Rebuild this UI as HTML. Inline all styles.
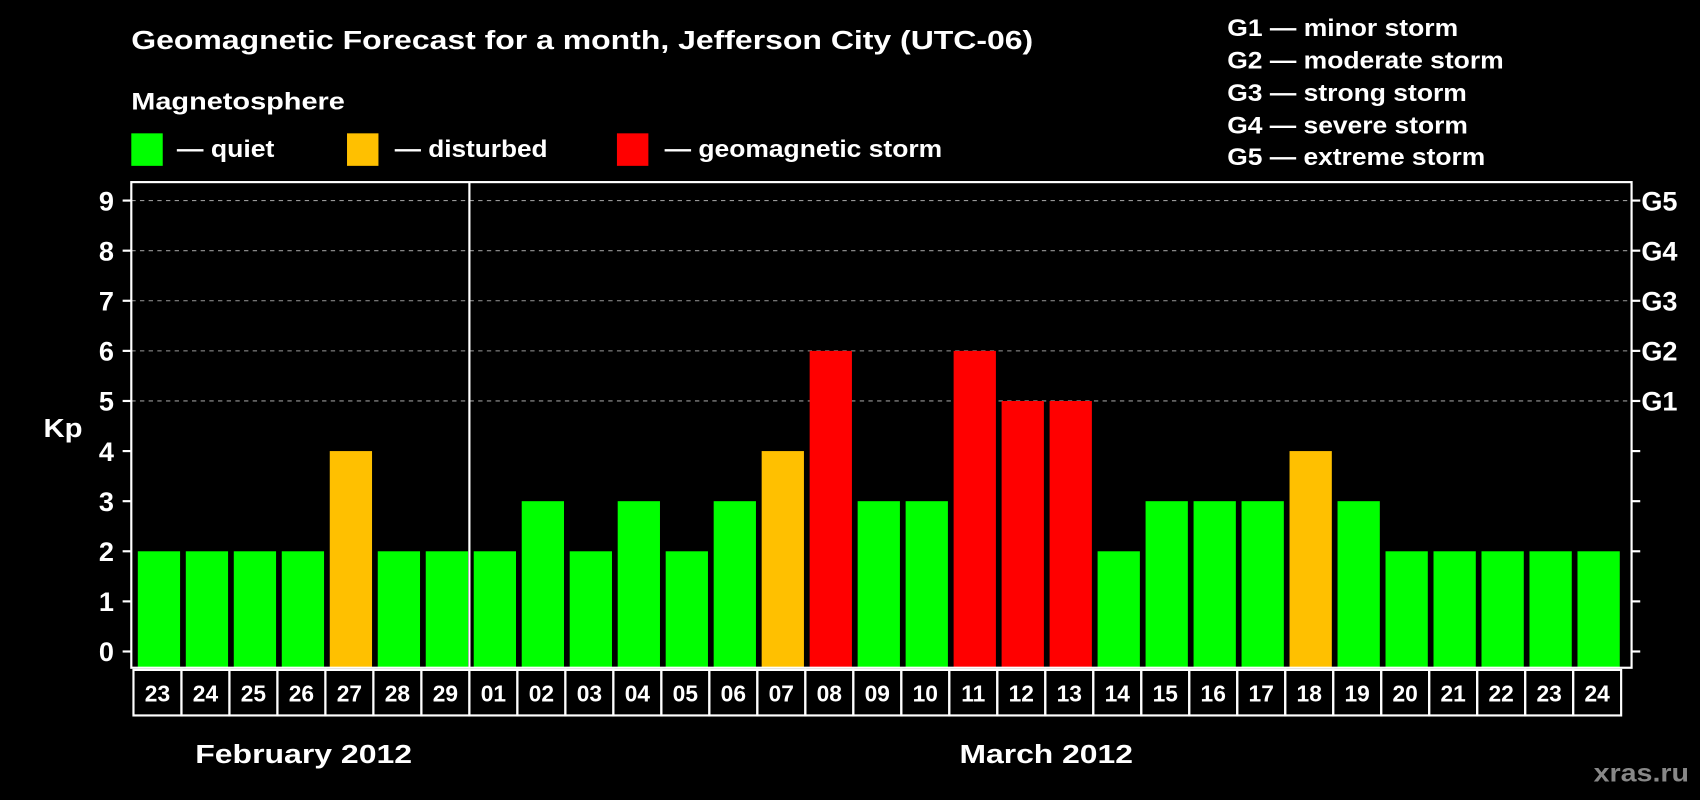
<!DOCTYPE html>
<html><head><meta charset="utf-8"><style>
html,body{margin:0;padding:0;background:#000;}
svg{display:block;font-family:"Liberation Sans",Arial,sans-serif;font-weight:bold;}
</style></head><body>
<svg id="chart" width="1700" height="800" viewBox="0 0 1568 738" xmlns="http://www.w3.org/2000/svg">
<rect width="1568" height="738" fill="#000"/>
<text x="121" y="45" fill="#fff" font-size="24" textLength="832" lengthAdjust="spacingAndGlyphs">Geomagnetic Forecast for a month, Jefferson City (UTC-06)</text>
<text x="121" y="101" fill="#fff" font-size="22" textLength="197" lengthAdjust="spacingAndGlyphs">Magnetosphere</text>
<g>
<rect x="121" y="123" width="29" height="30" fill="#00ff00"/>
<text x="163" y="145" fill="#fff" font-size="22" textLength="90" lengthAdjust="spacingAndGlyphs">— quiet</text>
<rect x="320" y="123" width="29" height="30" fill="#ffc000"/>
<text x="364" y="145" fill="#fff" font-size="22" textLength="141" lengthAdjust="spacingAndGlyphs">— disturbed</text>
<rect x="569" y="123" width="29" height="30" fill="#ff0000"/>
<text x="613" y="145" fill="#fff" font-size="22" textLength="256" lengthAdjust="spacingAndGlyphs">— geomagnetic storm</text>
</g>
<g fill="#fff" font-size="22">
<text x="1132" y="33" textLength="213" lengthAdjust="spacingAndGlyphs">G1 — minor storm</text>
<text x="1132" y="63" textLength="255" lengthAdjust="spacingAndGlyphs">G2 — moderate storm</text>
<text x="1132" y="93" textLength="221" lengthAdjust="spacingAndGlyphs">G3 — strong storm</text>
<text x="1132" y="123" textLength="222" lengthAdjust="spacingAndGlyphs">G4 — severe storm</text>
<text x="1132" y="152" textLength="238" lengthAdjust="spacingAndGlyphs">G5 — extreme storm</text>
</g>
<g id="grid"></g>
<g id="bars"></g>
<g id="axes"></g>
<g id="cells"></g>
<text x="40" y="403" fill="#fff" font-size="24" textLength="36" lengthAdjust="spacingAndGlyphs">Kp</text>
<text x="180" y="704" fill="#fff" font-size="24" textLength="200" lengthAdjust="spacingAndGlyphs">February 2012</text>
<text x="885" y="704" fill="#fff" font-size="24" textLength="160" lengthAdjust="spacingAndGlyphs">March 2012</text>
<text x="1470" y="721" fill="#888" font-size="23" textLength="88" lengthAdjust="spacingAndGlyphs">xras.ru</text>
</svg>
<script>
const days = ["23","24","25","26","27","28","29","01","02","03","04","05","06","07","08","09","10","11","12","13","14","15","16","17","18","19","20","21","22","23","24"];
const kpValues = [2,2,2,2,4,2,2,2,3,2,3,2,3,4,6,3,3,6,5,5,2,3,3,3,4,3,2,2,2,2,2];
const yTicks = [0,1,2,3,4,5,6,7,8,9];
const gLabels = ["G1","G2","G3","G4","G5"];
const NS="http://www.w3.org/2000/svg";
const x0=123, slot=44.27, plotL=121, plotR=1505, plotTop=168, plotBottom=616;
const yS=v=>601-v*46.22;
const xs=i=>x0+i*slot;
function mk(tag,parent,attrs){const e=document.createElementNS(NS,tag);for(const k in attrs)e.setAttribute(k,attrs[k]);parent.appendChild(e);return e;}
const grid=document.getElementById('grid'),bars=document.getElementById('bars'),axes=document.getElementById('axes'),cells=document.getElementById('cells');
yTicks.forEach(v=>{
  if(v>=5){const l=mk('line',grid,{x1:plotL,x2:plotR,y1:yS(v),y2:yS(v),stroke:'#999','stroke-dasharray':'4,4','stroke-width':1});
  
  }
  const t=mk('line',axes,{x1:plotL-8,x2:plotL,y1:yS(v),y2:yS(v),stroke:'#fff','stroke-width':2});
  
  
  const t2=mk('line',axes,{x1:plotR,x2:plotR+8,y1:yS(v),y2:yS(v),stroke:'#fff','stroke-width':2});
  
  
  const lb=mk('text',axes,{x:105,y:yS(v)+9,fill:'#fff','font-size':25,'text-anchor':'end'});lb.textContent=v;
  
  
  if(v>=5){const g=mk('text',axes,{x:1514,y:yS(v)+9,fill:'#fff','font-size':25});g.textContent=gLabels[v-5];
  
  }
});
kpValues.forEach((v,i)=>{
  const c=v>=5?'#ff0000':(v>=4?'#ffc000':'#00ff00');
  const b=mk('rect',bars,{x:xs(i)+4,y:yS(v),width:39,height:plotBottom-yS(v),fill:c});
  
  
  const cell=mk('rect',cells,{x:xs(i),y:618,width:slot,height:42,fill:'none',stroke:'#fff','stroke-width':2});
  
  
  const t=mk('text',cells,{x:xs(i)+slot/2,y:647,fill:'#fff','font-size':21,'text-anchor':'middle'});t.textContent=days[i];
  
  
});
const frame=mk('rect',axes,{x:plotL,y:plotTop,width:plotR-plotL,height:plotBottom-plotTop,fill:'none',stroke:'#fff','stroke-width':2});


const sep=mk('line',axes,{x1:xs(7),x2:xs(7),y1:plotTop,y2:plotBottom,stroke:'#fff','stroke-width':2});


</script>
</body></html>
